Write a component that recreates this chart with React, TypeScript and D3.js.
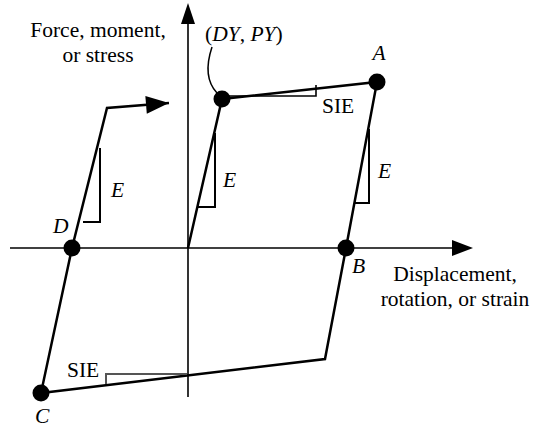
import React from 'react';
import * as d3 from 'd3';

// hysteresis loop, displacement (right) vs force (up), origin at 0
const loopDisp = [0, 34, 189, 158, 137, -147, -116, -81, -19];
const loopForce = [0, 149, 166, 0, -111, -145, 0, 140, 145];
// which loop vertices get a dot, and their letter
const dotIndex = [1, 2, 3, 5, 6];
const dotLetters = ['', 'A', 'B', 'C', 'D'];

const xExtent = [-178, 285];
const yExtent = [-149, 245];

// slope markers for elastic stiffness E (vertical leg then foot)
const eMarkers: [number, number][][] = [
  [[27, 115], [27, 41], [10, 41]],
  [[-88, 100], [-88, 26], [-105, 26]],
  [[181, 119], [181, 45], [166, 45]],
];
// slope markers for strain hardening SIE
const sieUpper: [number, number][] = [[34, 152], [128, 152], [128, 163]];
const sieLower: [number, number][] = [[-1, -126], [-82, -126], [-82, -136]];

const yAxisLabel = ['Force, moment,', 'or stress'];
const xAxisLabel = ['Displacement,', 'rotation, or strain'];

const W = 534;
const H = 430;
const font = "'Liberation Serif'";

const arrowHead = (tip: [number, number], from: [number, number], len: number, half: number) => {
  const dx = tip[0] - from[0];
  const dy = tip[1] - from[1];
  const d = Math.hypot(dx, dy);
  const ux = dx / d, uy = dy / d;
  const bx = tip[0] - ux * len, by = tip[1] - uy * len;
  return `M${tip[0]},${tip[1]}L${bx - uy * half},${by + ux * half}L${bx + uy * half},${by - ux * half}Z`;
};

export default function App() {
  const x = d3.scaleLinear().domain(xExtent).range([10, 473]);
  const y = d3.scaleLinear().domain(yExtent).range([397, 3]);

  const pts: [number, number][] = loopDisp.map((d, i) => [x(d), y(loopForce[i])]);
  const line = d3.line<[number, number]>().x(d => x(d[0])).y(d => y(d[1]));
  const pxLine = d3.line<[number, number]>();

  const n = pts.length;
  const tip = pts[n - 1];
  const prev = pts[n - 2];
  const loopPath = pxLine(pts);

  const ox = x(0), oy = y(0);

  const text = (s: string, px: number, py: number, opts: any = {}) => (
    <text x={px} y={py} fontSize={21.5} fill="#000" style={{ fontFamily: font }} {...opts}>{s}</text>
  );

  return (
    <div style={{ position: 'absolute', left: 0, top: 0 }}>
      <svg width={W} height={H} style={{ display: 'block', background: '#fff' }}>
        {/* axes */}
        <line x1={x(xExtent[0])} y1={oy} x2={x(xExtent[1]) - 15} y2={oy} stroke="#000" strokeWidth={1.6} />
        <path d={arrowHead([x(xExtent[1]), oy], [ox, oy], 21, 8)} fill="#000" />
        <line x1={ox} y1={y(yExtent[0])} x2={ox} y2={y(yExtent[1]) + 15} stroke="#000" strokeWidth={1.6} />
        <path d={arrowHead([ox, y(yExtent[1])], [ox, oy], 21, 7)} fill="#000" />

        {/* loop */}
        <path d={loopPath || ''} fill="none" stroke="#000" strokeWidth={2.5} strokeLinejoin="miter" />
        <path d={arrowHead(tip, prev, 23, 9)} fill="#000" />

        {/* slope markers */}
        {eMarkers.map((m, i) => (
          <path key={i} d={line(m) || ''} fill="none" stroke="#000" strokeWidth={2} />
        ))}
        <path d={line(sieUpper) || ''} fill="none" stroke="#000" strokeWidth={1.6} />
        <path d={line(sieLower) || ''} fill="none" stroke="#555" strokeWidth={2} />

        {/* dots */}
        {dotIndex.map(i => (
          <circle key={i} cx={pts[i][0]} cy={pts[i][1]} r={8.5} fill="#000" />
        ))}

        {/* leader to yield point */}
        <path d={`M${pts[1][0] - 10},${pts[1][1] - 52} Q${pts[1][0] - 20},${pts[1][1] - 22} ${pts[1][0] - 5},${pts[1][1] - 6}`}
          fill="none" stroke="#000" strokeWidth={1.5} />

        {/* labels */}
        <text x={205} y={41} fontSize={21.5} style={{ fontFamily: font }}>
          (<tspan fontStyle="italic">DY</tspan>, <tspan fontStyle="italic">PY</tspan>)
        </text>
        {text(dotLetters[1], pts[2][0] + 2, pts[2][1] - 22, { fontStyle: 'italic', textAnchor: 'middle' })}
        {text(dotLetters[2], pts[3][0] + 6, pts[3][1] + 25, { fontStyle: 'italic' })}
        {text(dotLetters[3], pts[5][0] - 6, pts[5][1] + 30, { fontStyle: 'italic' })}
        {text(dotLetters[4], pts[6][0] - 19, pts[6][1] - 15, { fontStyle: 'italic' })}

        {text('E', x(eMarkers[0][0][0]) + 8, 187, { fontStyle: 'italic' })}
        {text('E', x(eMarkers[1][0][0]) + 11, 197, { fontStyle: 'italic' })}
        {text('E', x(eMarkers[2][0][0]) + 9, 178, { fontStyle: 'italic' })}
        {text('SIE', 322, 113)}
        {text('SIE', 67, 377)}

        {yAxisLabel.map((s, i) => text(s, 98, 37 + i * 25, { textAnchor: 'middle', key: 'y' + i }))}
        {xAxisLabel.map((s, i) => text(s, 455, 281 + i * 25, { textAnchor: 'middle', key: 'x' + i }))}
      </svg>
    </div>
  );
}
